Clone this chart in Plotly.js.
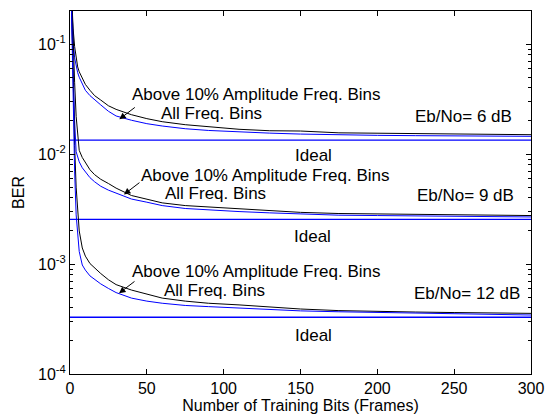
<!DOCTYPE html>
<html><head><meta charset="utf-8">
<script src="https://cdn.plot.ly/plotly-3.0.1.min.js"></script>
<style>html,body{margin:0;padding:0;background:#fff}#chart{width:548px;height:416px}</style>
</head><body><div id="chart"></div>
<script>
// Number of training bits (frames) sample points
const trainingBits = [1,2,3,4,5,6,8,10,13,16,20,25,30,40,50,60,75,90,110,130,150,175,200,225,250,275,300];

// Eb/No = 6 dB
const ber6Above = [0.3,0.14,0.095,0.074,0.062,0.056,0.049,0.043,0.038,0.034,0.031,0.0275,0.0255,0.0228,0.021,0.0197,0.0185,0.0177,0.0168,0.0163,0.0162,0.0156,0.0155,0.0153,0.0151,0.0150,0.0150];
const ber6All   = [0.3,0.11,0.075,0.062,0.055,0.050,0.043,0.038,0.034,0.031,0.028,0.0245,0.0222,0.0203,0.0189,0.0180,0.0170,0.0164,0.0159,0.0155,0.0152,0.0149,0.0148,0.0147,0.0146,0.0146,0.0145];
const ideal6 = 0.0134;

// Eb/No = 9 dB
const ber9Above = [0.3,0.095,0.045,0.022,0.014,0.0108,0.0093,0.0084,0.0072,0.0065,0.0059,0.0054,0.0049,0.0042,0.0039,0.0036,0.0034,0.0033,0.00315,0.00305,0.00295,0.00288,0.00286,0.00284,0.0028,0.00278,0.00276];
const ber9All   = [0.2,0.05,0.02,0.0105,0.0092,0.0085,0.0075,0.0069,0.0061,0.0056,0.0051,0.0047,0.0044,0.0039,0.00365,0.0034,0.0032,0.0031,0.0030,0.00292,0.00284,0.00278,0.00276,0.00274,0.00271,0.00269,0.00268];
const ideal9 = 0.00255;

// Eb/No = 12 dB
const ber12Above = [0.25,0.04,0.012,0.005,0.0028,0.002,0.0014,0.00118,0.00101,0.00092,0.00082,0.00072,0.00065,0.00058,0.00053,0.00049,0.00046,0.00044,0.000425,0.000405,0.00039,0.000377,0.00037,0.000366,0.000362,0.00036,0.000356];
const ber12All   = [0.2,0.025,0.007,0.0028,0.0017,0.0013,0.00098,0.00088,0.00078,0.00072,0.00066,0.0006,0.00055,0.00049,0.00046,0.00044,0.00042,0.00041,0.000397,0.000385,0.000375,0.000368,0.000362,0.000356,0.000351,0.000347,0.000344];
const ideal12 = 0.000328;

const yTickVals = [1e-4,1e-3,1e-2,1e-1];
const yTickText = ['10<sup>-4</sup>','10<sup>-3</sup>','10<sup>-2</sup>','10<sup>-1</sup>'];
const xTickVals = [0,50,100,150,200,250,300];

const minorVals = [];
for (const d of [1e-4,1e-3,1e-2,1e-1]) for (let k=2;k<=9;k++) { const v=k*d; if (v<=0.2) minorVals.push(v); }

const idealX = [0, trainingBits[trainingBits.length-1]];
function lineTrace(y, color, w) {
  return {x: trainingBits, y: y, mode:'lines', line:{color:color, width:w}, hoverinfo:'skip', showlegend:false};
}
function idealTrace(v) {
  return {x: idealX, y: [v, v], mode:'lines', line:{color:'#0000ff', width:1.4}, hoverinfo:'skip', showlegend:false};
}

const traces = [
  idealTrace(ideal6), idealTrace(ideal9), idealTrace(ideal12),
  lineTrace(ber6Above,'#000000',1), lineTrace(ber6All,'#0000ff',1),
  lineTrace(ber9Above,'#000000',1), lineTrace(ber9All,'#0000ff',1),
  lineTrace(ber12Above,'#000000',1), lineTrace(ber12All,'#0000ff',1)
];

const F = 'Liberation Sans, Arial, sans-serif';
const FS = 17;
function txt(t, x, y) {
  return {text:t, xref:'paper', yref:'paper', x:x, y:y, xanchor:'center', yanchor:'middle', showarrow:false, font:{family:F, size:FS, color:'#000'}};
}
function arr(x, y) {
  return {text:'', xref:'paper', yref:'paper', x:x, y:y, showarrow:true, arrowhead:2, arrowsize:1.3, arrowwidth:1, arrowcolor:'#000', ax:17, ay:-13};
}

const annotations = [
  txt('Above 10% Amplitude Freq. Bins', 0.4056, 0.7713),
  txt('All Freq. Bins', 0.308, 0.719),
  txt('Eb/No= 6 dB', 0.8525, 0.708),
  txt('Ideal', 0.529, 0.6006),
  arr(0.107, 0.7017),
  txt('Above 10% Amplitude Freq. Bins', 0.423, 0.548),
  txt('All Freq. Bins', 0.3167, 0.4978),
  txt('Eb/No= 9 dB', 0.857, 0.493),
  txt('Ideal', 0.527, 0.378),
  arr(0.117, 0.4945),
  txt('Above 10% Amplitude Freq. Bins', 0.4056, 0.2835),
  txt('All Freq. Bins', 0.3124, 0.2287),
  txt('Eb/No= 12 dB', 0.861, 0.223),
  txt('Ideal', 0.529, 0.1074),
  arr(0.1063, 0.2223)
];

const layout = {
  width:548, height:416,
  margin:{l:70, r:17, t:11, b:42},
  paper_bgcolor:'#fff', plot_bgcolor:'#fff',
  font:{family:F, size:16, color:'#000'},
  showlegend:false,
  xaxis:{
    range:[0,300], tickmode:'array', tickvals:xTickVals,
    ticks:'inside', ticklen:5, tickcolor:'#000', showgrid:false, zeroline:false,
    showline:true, linecolor:'#000', linewidth:1, mirror:'ticks',
    tickfont:{family:F, size:16},
    title:{text:'Number of Training Bits (Frames)', font:{family:F, size:16}, standoff:0}
  },
  yaxis:{
    type:'log', range:[-4, Math.log10(0.2)], tickmode:'array', tickvals:yTickVals, ticktext:yTickText,
    ticks:'inside', ticklen:5, tickcolor:'#000', showgrid:false, zeroline:false,
    showline:true, linecolor:'#000', linewidth:1, mirror:'ticks',
    minor:{tickmode:'array', tickvals:minorVals, ticks:'inside', ticklen:3, tickcolor:'#000', showgrid:false},
    tickfont:{family:F, size:16},
    title:{text:'BER', font:{family:F, size:16}, standoff:9}
  },
  annotations: annotations
};

Plotly.newPlot('chart', traces, layout, {displayModeBar:false, staticPlot:true});
</script></body></html>
